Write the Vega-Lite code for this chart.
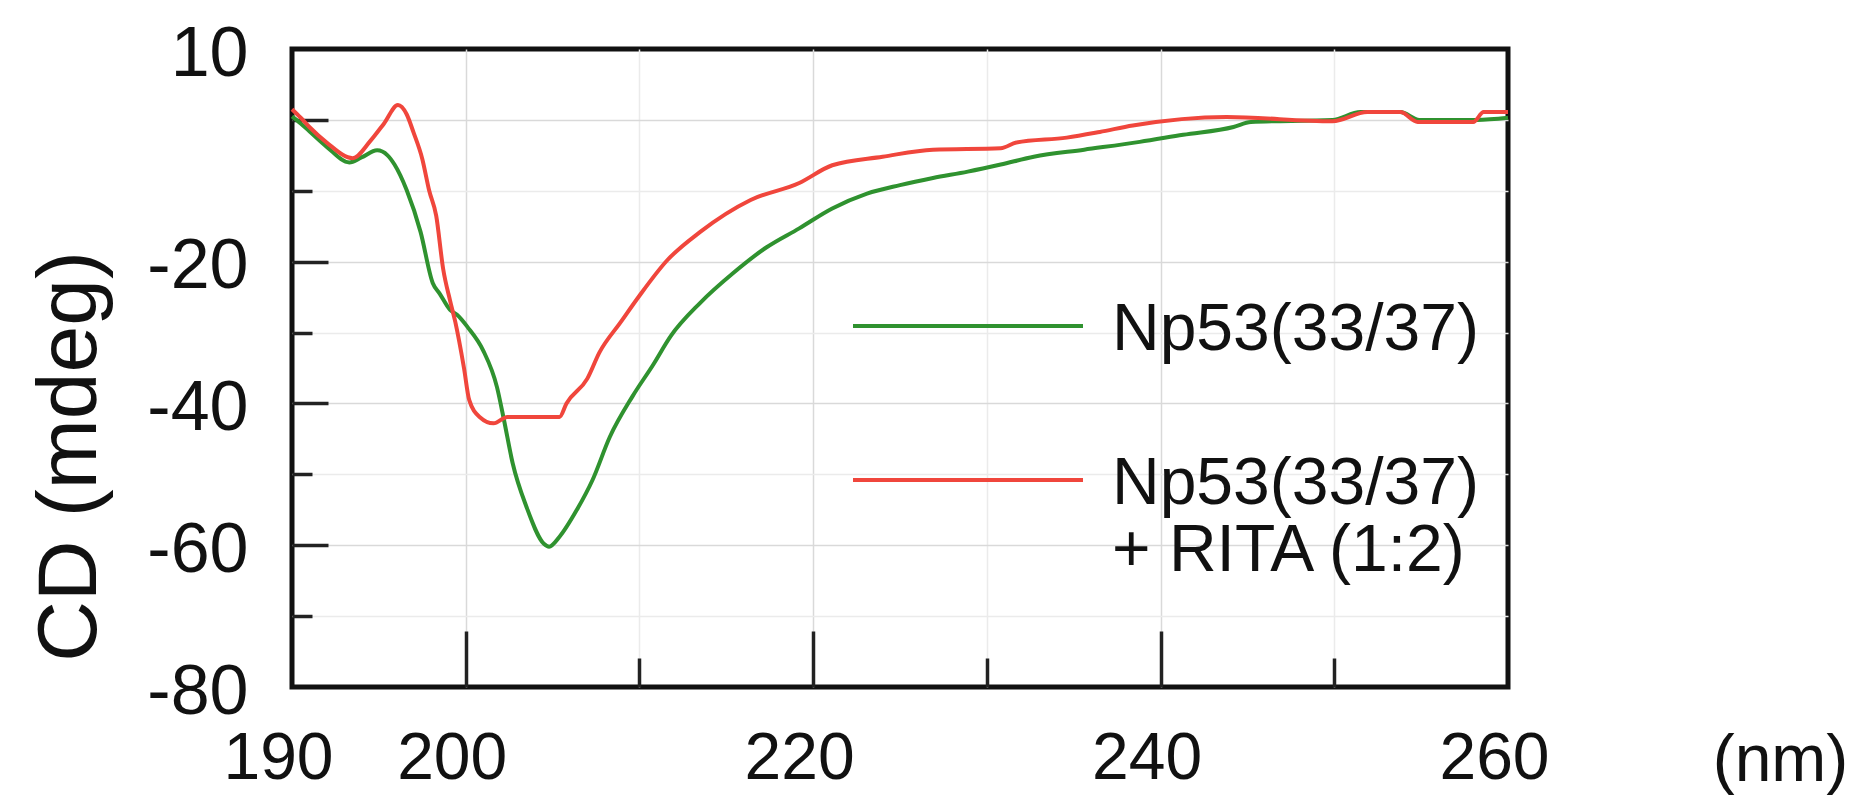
{
  "$schema": "https://vega.github.io/schema/vega-lite/v6.json",
  "width": 1216,
  "height": 638,
  "autosize": {"type": "none"},
  "padding": {"left": 292, "top": 49, "right": 350, "bottom": 113},
  "background": "#ffffff",
  "config": {
    "view": {"stroke": "#111111", "strokeWidth": 5},
    "font": "Liberation Sans",
    "axis": {"domain": false}
  },
  "datasets": {
    "cd": [
      {"wl": 190, "cd": 0.5, "series": "Np53(33/37)"},
      {"wl": 190.5, "cd": -0.5, "series": "Np53(33/37)"},
      {"wl": 191, "cd": -1.6, "series": "Np53(33/37)"},
      {"wl": 192, "cd": -3.8, "series": "Np53(33/37)"},
      {"wl": 193.3, "cd": -6.0, "series": "Np53(33/37)"},
      {"wl": 194, "cd": -5.3, "series": "Np53(33/37)"},
      {"wl": 194.9, "cd": -4.3, "series": "Np53(33/37)"},
      {"wl": 195.5, "cd": -5.0, "series": "Np53(33/37)"},
      {"wl": 195.9, "cd": -6.3, "series": "Np53(33/37)"},
      {"wl": 196.6, "cd": -9.9, "series": "Np53(33/37)"},
      {"wl": 197.4, "cd": -15.8, "series": "Np53(33/37)"},
      {"wl": 198.1, "cd": -23, "series": "Np53(33/37)"},
      {"wl": 198.5, "cd": -24.5, "series": "Np53(33/37)"},
      {"wl": 199.1, "cd": -26.8, "series": "Np53(33/37)"},
      {"wl": 199.5, "cd": -27.5, "series": "Np53(33/37)"},
      {"wl": 200.1, "cd": -29.2, "series": "Np53(33/37)"},
      {"wl": 201.0, "cd": -32.5, "series": "Np53(33/37)"},
      {"wl": 201.8, "cd": -37.7, "series": "Np53(33/37)"},
      {"wl": 202.2, "cd": -42.3, "series": "Np53(33/37)"},
      {"wl": 202.7, "cd": -48.4, "series": "Np53(33/37)"},
      {"wl": 203.5, "cd": -54.6, "series": "Np53(33/37)"},
      {"wl": 204.5, "cd": -59.8, "series": "Np53(33/37)"},
      {"wl": 204.8, "cd": -60.2, "series": "Np53(33/37)"},
      {"wl": 205.4, "cd": -58.8, "series": "Np53(33/37)"},
      {"wl": 206.4, "cd": -55, "series": "Np53(33/37)"},
      {"wl": 207.3, "cd": -50.8, "series": "Np53(33/37)"},
      {"wl": 208.3, "cd": -44.7, "series": "Np53(33/37)"},
      {"wl": 209.6, "cd": -39, "series": "Np53(33/37)"},
      {"wl": 210.8, "cd": -34.5, "series": "Np53(33/37)"},
      {"wl": 211.8, "cd": -30.5, "series": "Np53(33/37)"},
      {"wl": 213.5, "cd": -25.8, "series": "Np53(33/37)"},
      {"wl": 215.4, "cd": -21.6, "series": "Np53(33/37)"},
      {"wl": 217.3, "cd": -18, "series": "Np53(33/37)"},
      {"wl": 219.2, "cd": -15.3, "series": "Np53(33/37)"},
      {"wl": 221.1, "cd": -12.5, "series": "Np53(33/37)"},
      {"wl": 223.1, "cd": -10.4, "series": "Np53(33/37)"},
      {"wl": 225.0, "cd": -9.2, "series": "Np53(33/37)"},
      {"wl": 226.9, "cd": -8.2, "series": "Np53(33/37)"},
      {"wl": 228.9, "cd": -7.3, "series": "Np53(33/37)"},
      {"wl": 230.8, "cd": -6.3, "series": "Np53(33/37)"},
      {"wl": 232.7, "cd": -5.2, "series": "Np53(33/37)"},
      {"wl": 235.6, "cd": -4.2, "series": "Np53(33/37)"},
      {"wl": 238.8, "cd": -3.1, "series": "Np53(33/37)"},
      {"wl": 241.3, "cd": -2.1, "series": "Np53(33/37)"},
      {"wl": 244.2, "cd": -1.0, "series": "Np53(33/37)"},
      {"wl": 245.2, "cd": -0.3, "series": "Np53(33/37)"},
      {"wl": 249.9, "cd": 0.0, "series": "Np53(33/37)"},
      {"wl": 251.5, "cd": 1.1, "series": "Np53(33/37)"},
      {"wl": 253.8, "cd": 1.1, "series": "Np53(33/37)"},
      {"wl": 254.9, "cd": 0.0, "series": "Np53(33/37)"},
      {"wl": 258.2, "cd": 0.0, "series": "Np53(33/37)"},
      {"wl": 260, "cd": 0.3, "series": "Np53(33/37)"},
      {"wl": 190, "cd": 1.5, "series": "Np53(33/37) + RITA (1:2)"},
      {"wl": 190.5, "cd": 0.3, "series": "Np53(33/37) + RITA (1:2)"},
      {"wl": 191, "cd": -1.0, "series": "Np53(33/37) + RITA (1:2)"},
      {"wl": 192, "cd": -3.2, "series": "Np53(33/37) + RITA (1:2)"},
      {"wl": 193.5, "cd": -5.4, "series": "Np53(33/37) + RITA (1:2)"},
      {"wl": 194.5, "cd": -3.0, "series": "Np53(33/37) + RITA (1:2)"},
      {"wl": 195.3, "cd": -0.5, "series": "Np53(33/37) + RITA (1:2)"},
      {"wl": 196.1, "cd": 2.1, "series": "Np53(33/37) + RITA (1:2)"},
      {"wl": 196.6, "cd": 0.8, "series": "Np53(33/37) + RITA (1:2)"},
      {"wl": 197.0, "cd": -1.8, "series": "Np53(33/37) + RITA (1:2)"},
      {"wl": 197.5, "cd": -5.5, "series": "Np53(33/37) + RITA (1:2)"},
      {"wl": 197.9, "cd": -10, "series": "Np53(33/37) + RITA (1:2)"},
      {"wl": 198.3, "cd": -13.5, "series": "Np53(33/37) + RITA (1:2)"},
      {"wl": 198.7, "cd": -21, "series": "Np53(33/37) + RITA (1:2)"},
      {"wl": 199.1, "cd": -25.5, "series": "Np53(33/37) + RITA (1:2)"},
      {"wl": 199.4, "cd": -28.5, "series": "Np53(33/37) + RITA (1:2)"},
      {"wl": 199.9, "cd": -35, "series": "Np53(33/37) + RITA (1:2)"},
      {"wl": 200.2, "cd": -39.5, "series": "Np53(33/37) + RITA (1:2)"},
      {"wl": 200.8, "cd": -41.9, "series": "Np53(33/37) + RITA (1:2)"},
      {"wl": 201.6, "cd": -42.8, "series": "Np53(33/37) + RITA (1:2)"},
      {"wl": 202.4, "cd": -41.9, "series": "Np53(33/37) + RITA (1:2)"},
      {"wl": 205.4, "cd": -41.9, "series": "Np53(33/37) + RITA (1:2)"},
      {"wl": 205.8, "cd": -40, "series": "Np53(33/37) + RITA (1:2)"},
      {"wl": 207.0, "cd": -36.5, "series": "Np53(33/37) + RITA (1:2)"},
      {"wl": 207.7, "cd": -32.8, "series": "Np53(33/37) + RITA (1:2)"},
      {"wl": 208.9, "cd": -28.6, "series": "Np53(33/37) + RITA (1:2)"},
      {"wl": 210.0, "cd": -24.8, "series": "Np53(33/37) + RITA (1:2)"},
      {"wl": 211.6, "cd": -19.8, "series": "Np53(33/37) + RITA (1:2)"},
      {"wl": 213.5, "cd": -15.8, "series": "Np53(33/37) + RITA (1:2)"},
      {"wl": 216.4, "cd": -11.3, "series": "Np53(33/37) + RITA (1:2)"},
      {"wl": 219.2, "cd": -8.9, "series": "Np53(33/37) + RITA (1:2)"},
      {"wl": 221.1, "cd": -6.4, "series": "Np53(33/37) + RITA (1:2)"},
      {"wl": 224.0, "cd": -5.2, "series": "Np53(33/37) + RITA (1:2)"},
      {"wl": 226.9, "cd": -4.2, "series": "Np53(33/37) + RITA (1:2)"},
      {"wl": 230.8, "cd": -4.0, "series": "Np53(33/37) + RITA (1:2)"},
      {"wl": 231.7, "cd": -3.2, "series": "Np53(33/37) + RITA (1:2)"},
      {"wl": 234.6, "cd": -2.5, "series": "Np53(33/37) + RITA (1:2)"},
      {"wl": 236.5, "cd": -1.7, "series": "Np53(33/37) + RITA (1:2)"},
      {"wl": 238.4, "cd": -0.8, "series": "Np53(33/37) + RITA (1:2)"},
      {"wl": 243.8, "cd": 0.4, "series": "Np53(33/37) + RITA (1:2)"},
      {"wl": 249.9, "cd": -0.2, "series": "Np53(33/37) + RITA (1:2)"},
      {"wl": 251.9, "cd": 1.1, "series": "Np53(33/37) + RITA (1:2)"},
      {"wl": 253.8, "cd": 1.1, "series": "Np53(33/37) + RITA (1:2)"},
      {"wl": 254.8, "cd": -0.3, "series": "Np53(33/37) + RITA (1:2)"},
      {"wl": 258, "cd": -0.3, "series": "Np53(33/37) + RITA (1:2)"},
      {"wl": 258.6, "cd": 1.1, "series": "Np53(33/37) + RITA (1:2)"},
      {"wl": 260, "cd": 1.1, "series": "Np53(33/37) + RITA (1:2)"}
    ]
  },
  "data": {"name": "cd"},
  "resolve": {"axis": {"x": "independent", "y": "independent"}},
  "layer": [
    {
      "mark": {"type": "line", "strokeOpacity": 0},
      "encoding": {
        "detail": {"field": "series"},
        "x": {
          "field": "wl", "type": "quantitative",
          "scale": {"domain": [190, 260], "nice": false, "zero": false},
          "axis": {"orient": "bottom", "values": [210, 230, 250], "labels": false, "title": null,
                   "ticks": true, "tickSize": -29, "tickWidth": 3.5, "tickColor": "#222222",
                   "grid": true, "gridColor": "#ebebeb", "gridWidth": 1.5}
        },
        "y": {
          "field": "cd", "type": "quantitative",
          "scale": {"domain": [-80, 10], "nice": false, "zero": false},
          "axis": {"orient": "left", "values": [-10, -30, -50, -70], "labels": false, "title": null,
                   "ticks": true, "tickSize": -20, "tickWidth": 3.5, "tickColor": "#222222",
                   "grid": true, "gridColor": "#ebebeb", "gridWidth": 1.5}
        }
      }
    },
    {
      "mark": {"type": "line", "strokeOpacity": 0},
      "encoding": {
        "detail": {"field": "series"},
        "x": {
          "field": "wl", "type": "quantitative",
          "scale": {"domain": [190, 260], "nice": false, "zero": false},
          "axis": {"orient": "bottom", "values": [200, 220, 240], "labels": false, "title": null,
                   "ticks": true, "tickSize": -56, "tickWidth": 3.5, "tickColor": "#222222",
                   "grid": true, "gridColor": "#d9d9d9", "gridWidth": 1.5}
        },
        "y": {
          "field": "cd", "type": "quantitative",
          "scale": {"domain": [-80, 10], "nice": false, "zero": false},
          "axis": {"orient": "left", "values": [0, -20, -40, -60], "labels": false, "title": null,
                   "ticks": true, "tickSize": -36, "tickWidth": 3.5, "tickColor": "#222222",
                   "grid": true, "gridColor": "#d9d9d9", "gridWidth": 1.5}
        }
      }
    },
    {
      "mark": {"type": "line", "strokeWidth": 4, "interpolate": "monotone"},
      "encoding": {
        "x": {
          "field": "wl", "type": "quantitative",
          "scale": {"domain": [190, 260], "nice": false, "zero": false},
          "axis": {"orient": "bottom", "values": [190, 200, 220, 240, 260], "ticks": false, "grid": false,
                   "labelExpr": "toString(datum.value)",
                   "labelFontSize": 66, "labelColor": "#111111", "labelBaseline": "top", "labelPadding": 39,
                   "labelOffset": -14, "labelFlush": false, "labelOverlap": false,
                   "title": "(nm)", "titleFontSize": 66, "titleFontWeight": "normal", "titleColor": "#111111",
                   "titleX": 1488, "titleY": 93, "titleAlign": "center", "titleBaseline": "alphabetic"}
        },
        "y": {
          "field": "cd", "type": "quantitative",
          "scale": {"domain": [-80, 10], "nice": false, "zero": false},
          "axis": {"orient": "left", "values": [10, -20, -40, -60, -80], "ticks": false, "grid": false,
                   "labelExpr": "toString(datum.value)",
                   "labelFontSize": 70, "labelColor": "#111111", "labelBaseline": "middle", "labelPadding": 44,
                   "labelOffset": 5, "labelFlush": false, "labelOverlap": false,
                   "title": "CD (mdeg)", "titleFontSize": 84, "titleFontWeight": "normal", "titleColor": "#111111",
                   "titleAngle": 270, "titleX": -222, "titleY": 407, "titleAlign": "center", "titleBaseline": "middle"}
        },
        "color": {
          "field": "series", "type": "nominal",
          "scale": {"domain": ["Np53(33/37)", "Np53(33/37) + RITA (1:2)"], "range": ["#2f922f", "#f0463c"]},
          "legend": {
            "orient": "none", "legendX": 559, "legendY": 160, "title": null, "padding": 0,
            "direction": "vertical",
            "symbolType": "stroke", "symbolSize": 52900, "symbolStrokeWidth": 4,
            "labelFont": "Liberation Sans", "labelFontSize": 66, "labelColor": "#111111", "labelLimit": 2000,
            "labelOffset": 27, "labelBaseline": "top", "rowPadding": 0,
            "labelExpr": "datum.label == 'Np53(33/37) + RITA (1:2)' ? ['Np53(33/37)', '+ RITA (1:2)'] : datum.label",
            "encode": {"labels": {"update": {"dy": {"value": -28}, "lineHeight": {"value": 67}}}}
          }
        }
      }
    }
  ]
}
